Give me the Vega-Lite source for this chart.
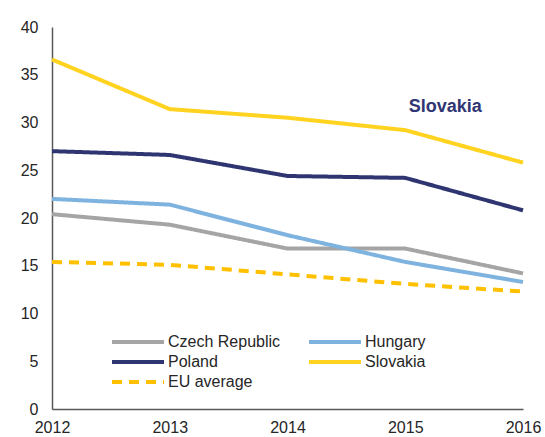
{
  "$schema": "https://vega.github.io/schema/vega-lite/v6.json",
  "width": 471,
  "height": 382,
  "autosize": "none",
  "padding": {"left": 52, "top": 27, "right": 22, "bottom": 28},
  "background": "white",
  "config": {
    "view": {"stroke": null},
    "font": "Liberation Sans",
    "axis": {"grid": false, "ticks": false, "domainColor": "#595959", "domainWidth": 1.5, "labelColor": "#262626", "labelFontSize": 16, "title": null, "labelFont": "Liberation Sans"}
  },
  "datasets": {
    "series": [
      {"year": 2012, "value": 20.4, "series": "Czech Republic"},
      {"year": 2013, "value": 19.3, "series": "Czech Republic"},
      {"year": 2014, "value": 16.8, "series": "Czech Republic"},
      {"year": 2015, "value": 16.8, "series": "Czech Republic"},
      {"year": 2016, "value": 14.2, "series": "Czech Republic"},
      {"year": 2012, "value": 22.0, "series": "Hungary"},
      {"year": 2013, "value": 21.4, "series": "Hungary"},
      {"year": 2014, "value": 18.2, "series": "Hungary"},
      {"year": 2015, "value": 15.4, "series": "Hungary"},
      {"year": 2016, "value": 13.3, "series": "Hungary"},
      {"year": 2012, "value": 27.0, "series": "Poland"},
      {"year": 2013, "value": 26.6, "series": "Poland"},
      {"year": 2014, "value": 24.4, "series": "Poland"},
      {"year": 2015, "value": 24.2, "series": "Poland"},
      {"year": 2016, "value": 20.8, "series": "Poland"},
      {"year": 2012, "value": 36.6, "series": "Slovakia"},
      {"year": 2013, "value": 31.4, "series": "Slovakia"},
      {"year": 2014, "value": 30.5, "series": "Slovakia"},
      {"year": 2015, "value": 29.2, "series": "Slovakia"},
      {"year": 2016, "value": 25.8, "series": "Slovakia"},
      {"year": 2012, "value": 15.4, "series": "EU average"},
      {"year": 2013, "value": 15.1, "series": "EU average"},
      {"year": 2014, "value": 14.1, "series": "EU average"},
      {"year": 2015, "value": 13.1, "series": "EU average"},
      {"year": 2016, "value": 12.3, "series": "EU average"}
    ],
    "notes": [
      {"year": 2015.34, "value": 31.6, "label": "Slovakia"}
    ]
  },
  "layer": [
    {
      "data": {"name": "series"},
      "mark": {"type": "line", "strokeWidth": 4, "strokeCap": "butt"},
      "encoding": {
        "x": {"field": "year", "type": "quantitative", "scale": {"domain": [2012, 2016], "nice": false, "zero": false}, "axis": {"values": [2012, 2013, 2014, 2015, 2016], "format": "d", "labelPadding": 10, "labelFlush": false}},
        "y": {"field": "value", "type": "quantitative", "scale": {"domain": [0, 40], "nice": false}, "axis": {"values": [0, 5, 10, 15, 20, 25, 30, 35, 40], "labelPadding": 14}},
        "color": {
          "field": "series", "type": "nominal",
          "scale": {"domain": ["Czech Republic", "Hungary", "Poland", "Slovakia", "EU average"], "range": ["#A5A5A5", "#7EB3DF", "#2E3570", "#FFD320", "#FFC000"]},
          "legend": {"title": null, "orient": "none", "direction": "horizontal", "legendX": 74, "legendY": 303, "columns": 2, "columnPadding": 20, "rowPadding": -0.5, "symbolType": "M-2.6,0H2.6", "symbolSize": 400, "symbolStrokeWidth": 4, "labelFontSize": 16, "labelColor": "#262626", "labelOffset": 18}
        },
        "strokeDash": {
          "field": "series", "type": "nominal",
          "scale": {"domain": ["Czech Republic", "Hungary", "Poland", "Slovakia", "EU average"], "range": [[1, 0], [1, 0], [1, 0], [1, 0], [10, 7]]}
        }
      }
    },
    {
      "data": {"name": "notes"},
      "mark": {"type": "text", "fontSize": 18, "fontWeight": "bold", "color": "#2F3673", "align": "center", "baseline": "middle"},
      "encoding": {
        "x": {"field": "year", "type": "quantitative"},
        "y": {"field": "value", "type": "quantitative"},
        "text": {"field": "label"}
      }
    }
  ]
}
